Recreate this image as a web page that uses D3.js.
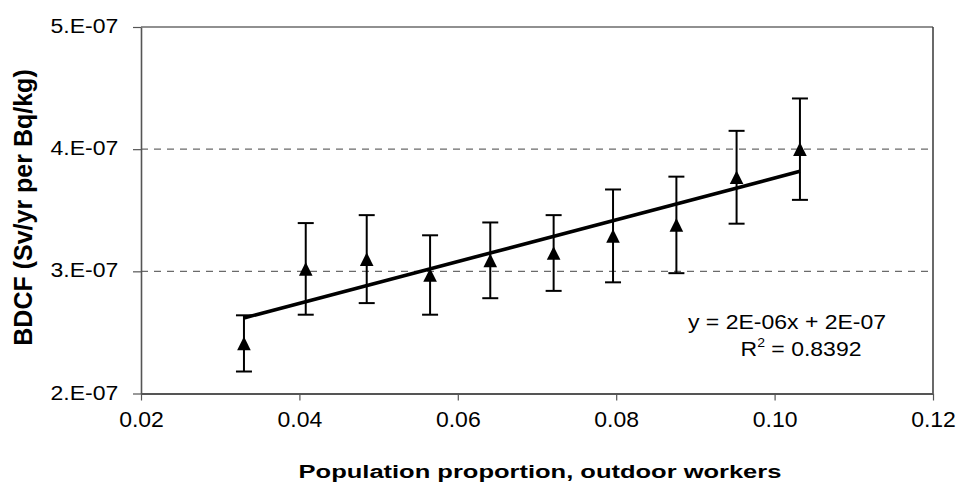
<!DOCTYPE html>
<html>
<head>
<meta charset="utf-8">
<script src="https://cdn.jsdelivr.net/npm/d3@7"></script>
<style>
  body { margin: 0; background: #fff; }
  text { font-family: "Liberation Sans", Arial, sans-serif; fill: #000; }
</style>
</head>
<body>
<svg id="chart" width="961" height="485"></svg>
<script>
// Population proportion of outdoor workers and the resulting BDCF (Sv/yr per Bq/kg)
const proportion = [0.0330, 0.0408, 0.0485, 0.0565, 0.0641, 0.0721, 0.0796, 0.0876, 0.0952, 0.1032];
const bdcf       = [2.41e-7, 3.02e-7, 3.10e-7, 2.97e-7, 3.09e-7, 3.15e-7, 3.29e-7, 3.38e-7, 3.77e-7, 4.00e-7];
const bdcfError  = [0.23e-7, 0.375e-7, 0.36e-7, 0.325e-7, 0.31e-7, 0.31e-7, 0.38e-7, 0.395e-7, 0.38e-7, 0.415e-7];

const xTicks = [0.02, 0.04, 0.06, 0.08, 0.10, 0.12];
const xTickLabels = ["0.02", "0.04", "0.06", "0.08", "0.10", "0.12"];
const yTicks = [2e-7, 3e-7, 4e-7, 5e-7];
const yTickLabels = ["2.E-07", "3.E-07", "4.E-07", "5.E-07"];
const gridValues = [3e-7, 4e-7];

const xTitle = "Population proportion, outdoor workers";
const yTitle = "BDCF (Sv/yr per Bq/kg)";
const equationText = "y = 2E-06x + 2E-07";
const rSquaredText = "0.8392";

const svg = d3.select("#chart");
const plot = { left: 141, right: 933, top: 27, bottom: 393.5 };

const x = d3.scaleLinear().domain([0.02, 0.12]).range([plot.left, plot.right]);
const y = d3.scaleLinear().domain([2e-7, 5e-7]).range([plot.bottom, plot.top]);

// dashed horizontal gridlines
svg.append("g").selectAll("line").data(gridValues).join("line")
  .attr("x1", plot.left).attr("x2", plot.right)
  .attr("y1", d => y(d)).attr("y2", d => y(d))
  .attr("stroke", "#6a6a6a").attr("stroke-width", 1.1)
  .attr("stroke-dasharray", "7,6");

// plot frame: top and right edges
svg.append("line")
  .attr("x1", plot.left).attr("x2", plot.right)
  .attr("y1", plot.top).attr("y2", plot.top)
  .attr("stroke", "#222").attr("stroke-width", 1.2);
svg.append("line")
  .attr("x1", plot.right).attr("x2", plot.right)
  .attr("y1", plot.top).attr("y2", plot.bottom)
  .attr("stroke", "#444").attr("stroke-width", 1.6);

// y axis
const yAxis = svg.append("g")
  .attr("transform", `translate(${plot.left},0)`)
  .call(d3.axisLeft(y).tickValues(yTicks)
    .tickFormat((d, i) => yTickLabels[i])
    .tickSize(8).tickSizeOuter(0));
yAxis.select(".domain").attr("stroke", "#555").attr("stroke-width", 1.6);
yAxis.selectAll(".tick line").attr("stroke", "#555").attr("stroke-width", 1.2);
yAxis.selectAll(".tick text")
  .attr("font-size", 23)
  .attr("x", -22.7).attr("dy", null)
  .attr("y", 5.6 / 0.86)
  .attr("transform", "scale(1,0.86)")
  .attr("text-anchor", "end");

// x axis
const xAxis = svg.append("g")
  .attr("transform", `translate(0,${plot.bottom})`)
  .call(d3.axisBottom(x).tickValues(xTicks)
    .tickFormat((d, i) => xTickLabels[i])
    .tickSize(7).tickSizeOuter(0));
xAxis.select(".domain").attr("stroke", "#555").attr("stroke-width", 2);
xAxis.selectAll(".tick line").attr("stroke", "#555").attr("stroke-width", 1.2);
xAxis.selectAll(".tick text")
  .attr("font-size", 23)
  .attr("dy", null)
  .attr("y", 33.5 / 0.95)
  .attr("transform", "scale(1,0.95)");
svg.selectAll(".domain").attr("fill", "none");

// axis titles
svg.append("text")
  .attr("transform", "translate(540,478) scale(1,0.73)")
  .attr("text-anchor", "middle")
  .attr("font-size", 25.5).attr("font-weight", "bold")
  .text(xTitle);
svg.append("text")
  .attr("transform", "translate(31.5,207.5) rotate(-90)")
  .attr("text-anchor", "middle")
  .attr("font-size", 25).attr("font-weight", "bold")
  .text(yTitle);

// least-squares trend line through the points
const n = proportion.length;
const mx = d3.mean(proportion), my = d3.mean(bdcf);
const sxy = d3.sum(proportion, (v, i) => (v - mx) * (bdcf[i] - my));
const sxx = d3.sum(proportion, v => (v - mx) * (v - mx));
const slope = sxy / sxx, intercept = my - slope * mx;
const xEnds = [proportion[0], proportion[n - 1]];
svg.append("path")
  .datum(xEnds)
  .attr("d", d3.line().x(d => x(d)).y(d => y(intercept + slope * d)))
  .attr("stroke", "#000").attr("stroke-width", 3.6).attr("fill", "none");

// error bars
const points = proportion.map((p, i) => ({ p, v: bdcf[i], e: bdcfError[i] }));
const bars = svg.append("g").selectAll("g").data(points).join("g")
  .attr("stroke", "#000").attr("stroke-width", 2);
bars.append("line")
  .attr("x1", d => x(d.p)).attr("x2", d => x(d.p))
  .attr("y1", d => y(d.v - d.e)).attr("y2", d => y(d.v + d.e));
bars.append("line")
  .attr("x1", d => x(d.p) - 8).attr("x2", d => x(d.p) + 8)
  .attr("y1", d => y(d.v + d.e)).attr("y2", d => y(d.v + d.e));
bars.append("line")
  .attr("x1", d => x(d.p) - 8).attr("x2", d => x(d.p) + 8)
  .attr("y1", d => y(d.v - d.e)).attr("y2", d => y(d.v - d.e));

// triangle markers
const h = 6.8;
svg.append("g").selectAll("path").data(points).join("path")
  .attr("d", d => {
    const cx = x(d.p), cy = y(d.v);
    return `M${cx},${cy - h}L${cx + h},${cy + h}L${cx - h},${cy + h}Z`;
  })
  .attr("fill", "#000");

// regression equation label
svg.append("text")
  .attr("transform", "translate(787,329) scale(1,0.87)")
  .attr("text-anchor", "middle")
  .attr("font-size", 23)
  .text(equationText);
const r2 = svg.append("text")
  .attr("transform", "translate(801,356) scale(1,0.87)")
  .attr("text-anchor", "middle")
  .attr("font-size", 23);
r2.append("tspan").text("R");
r2.append("tspan").attr("font-size", 14).attr("dy", -10).text("2");
r2.append("tspan").attr("dy", 10).text(" = " + rSquaredText);
</script>
</body>
</html>
